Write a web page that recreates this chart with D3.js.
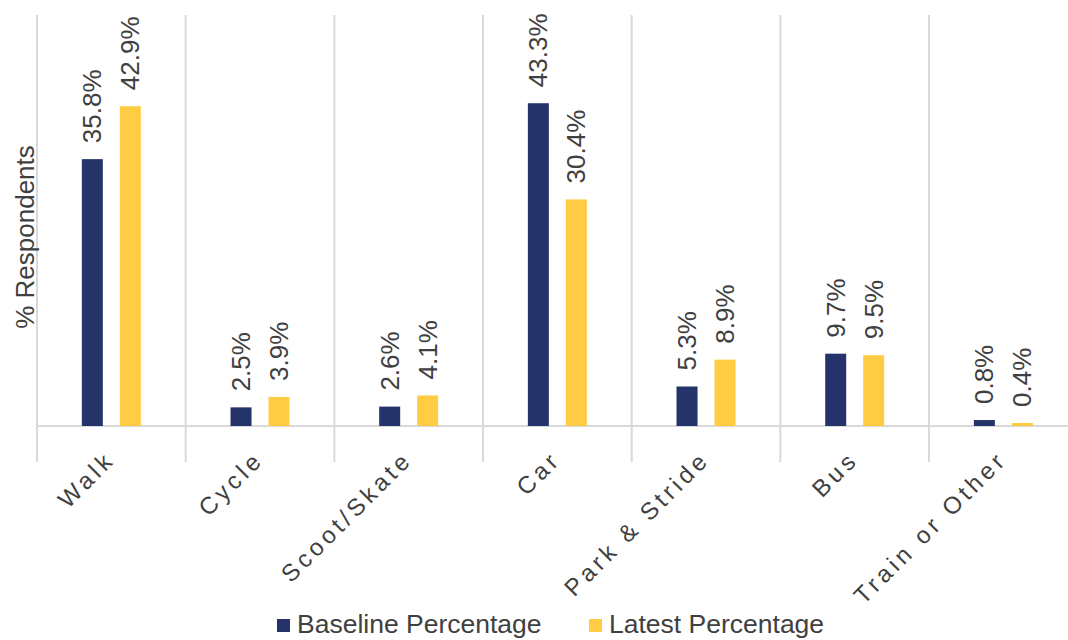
<!DOCTYPE html>
<html>
<head>
<meta charset="utf-8">
<script src="https://cdn.jsdelivr.net/npm/d3@7"></script>
<style>
  html, body { margin: 0; padding: 0; background: #ffffff; }
  svg { display: block; font-family: "Liberation Sans", Arial, sans-serif; }
</style>
</head>
<body>
<svg id="chart" width="1068" height="640"></svg>
<script>
// Travel mode survey: share of respondents per mode
const categories = ["Walk", "Cycle", "Scoot/Skate", "Car", "Park & Stride", "Bus", "Train or Other"];
const seriesNames = ["Baseline Percentage", "Latest Percentage"];
const baselineValues = [35.8, 2.5, 2.6, 43.3, 5.3, 9.7, 0.8];
const latestValues = [42.9, 3.9, 4.1, 30.4, 8.9, 9.5, 0.4];
const seriesColors = ["#24346B", "#FFCC44"];

const svg = d3.select("#chart");

const x0 = d3.scaleBand()
  .domain(categories)
  .range([37, 1077.7])
  .paddingInner(0)
  .paddingOuter(0);

const x1 = d3.scaleBand()
  .domain(seriesNames)
  .range([0, x0.bandwidth()])
  .paddingInner(0.447)
  .paddingOuter(1.18);

const y = d3.scaleLinear()
  .domain([0, 55])
  .range([426, 16]);

const rows = categories.map((c, i) => ({
  category: c,
  values: [
    { series: seriesNames[0], value: baselineValues[i] },
    { series: seriesNames[1], value: latestValues[i] }
  ]
}));

const gridColor = "#D9D9D9";

// category separators (extend below the axis line)
const separators = categories.map(c => x0(c));
svg.append("g")
  .selectAll("line")
  .data(separators)
  .join("line")
  .attr("x1", d => d)
  .attr("x2", d => d)
  .attr("y1", 15)
  .attr("y2", 462)
  .attr("stroke", gridColor)
  .attr("stroke-width", 2);

// horizontal axis line at zero
svg.append("line")
  .attr("x1", x0.range()[0])
  .attr("x2", x0.range()[1])
  .attr("y1", y(0))
  .attr("y2", y(0))
  .attr("stroke", gridColor)
  .attr("stroke-width", 2);

// bars
const groups = svg.append("g")
  .selectAll("g")
  .data(rows)
  .join("g")
  .attr("transform", d => `translate(${x0(d.category)},0)`);

groups.selectAll("rect")
  .data(d => d.values)
  .join("rect")
  .attr("x", d => x1(d.series))
  .attr("y", d => y(d.value))
  .attr("width", x1.bandwidth())
  .attr("height", d => y(0) - y(d.value))
  .attr("fill", (d, i) => seriesColors[i]);

// value labels, rotated
groups.selectAll("text")
  .data(d => d.values)
  .join("text")
  .attr("transform", d => `translate(${x1(d.series) + x1.bandwidth() / 2 + 9},${y(d.value) - 16}) rotate(-90)`)
  .attr("text-anchor", "start")
  .attr("font-size", 26)
  .attr("fill", "#404040")
  .text(d => d.value.toFixed(1) + "%");

// category labels at 45 degrees
svg.append("g")
  .selectAll("text")
  .data(categories)
  .join("text")
  .attr("transform", c => `translate(${x0(c) + x0.bandwidth() / 2 + 5},${461}) rotate(-45)`)
  .attr("text-anchor", "end")
  .attr("font-size", 24)
  .attr("letter-spacing", 4)
  .attr("fill", "#404040")
  .text(c => c);

// y axis title
svg.append("text")
  .attr("transform", "translate(34,237) rotate(-90)")
  .attr("text-anchor", "middle")
  .attr("font-size", 26)
  .attr("fill", "#404040")
  .text("% Respondents");

// legend
const legendItems = [
  { name: seriesNames[0], color: seriesColors[0], x: 277 },
  { name: seriesNames[1], color: seriesColors[1], x: 589 }
];
const legend = svg.append("g")
  .selectAll("g")
  .data(legendItems)
  .join("g")
  .attr("transform", d => `translate(${d.x},0)`);

legend.append("rect")
  .attr("x", 0)
  .attr("y", 619)
  .attr("width", 13)
  .attr("height", 13)
  .attr("fill", d => d.color);

legend.append("text")
  .attr("x", 20)
  .attr("y", 633)
  .attr("font-size", 26.5)
  .attr("fill", "#404040")
  .text(d => d.name);
</script>
</body>
</html>
